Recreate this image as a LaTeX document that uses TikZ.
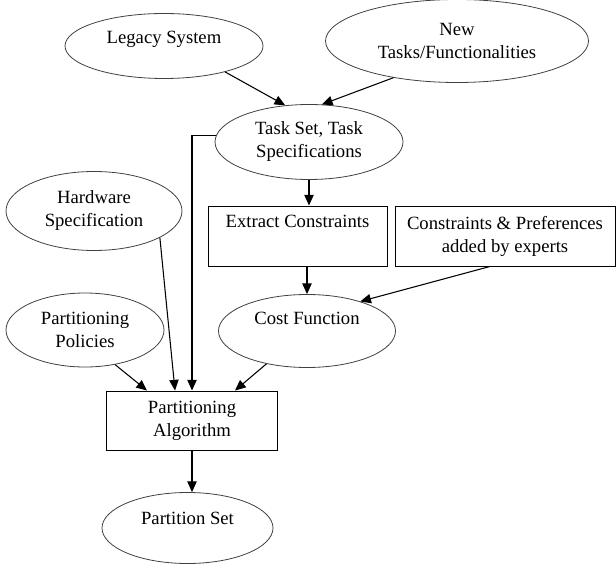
\documentclass[tikz,border=0pt]{standalone}
\usepackage{fontspec}
\setmainfont{Liberation Serif}
\usetikzlibrary{arrows.meta,shapes.geometric,calc}

\begin{document}
\begin{tikzpicture}[x=0.75pt, y=-0.75pt, >={Triangle[length=8pt,width=7pt]}, font=\fontsize{14}{17.25}\selectfont] %partitioning flow
	\tikzstyle{oval} = [ellipse, draw=black!75, line width=0.6pt, inner sep=0pt, align=center]
	\tikzstyle{box} = [rectangle, draw, line width=0.7pt, inner sep=0pt, align=center]
	\tikzstyle{link} = [->, line width=0.8pt]
	\useasboundingbox (0,0) rectangle (616,566);

	% inputs
	\node[oval, minimum width=148.5pt, minimum height=48.75pt, text depth=13.5pt] (ls) at (164,46) {Legacy System};
	\node[oval, minimum width=197.25pt, minimum height=62.25pt] (nt) at (457,41) {New\\Tasks/Functionalities};
	\node[oval, minimum width=141pt, minimum height=56.25pt] (ts) at (309,142) {Task Set, Task\\Specifications};
	\node[oval, minimum width=132pt, minimum height=59.25pt] (hw) at (94,211) {Hardware\\Specification};
	\node[oval, minimum width=118.5pt, minimum height=55.5pt] (pp) at (85,330) {Partitioning\\Policies};

	% constraints
	\node[box, minimum width=134.25pt, minimum height=45pt, text depth=22.5pt] (ec) at (297.5,236) {Extract Constraints};
	\node[box, minimum width=165pt, minimum height=45pt] (cp) at (505,236) {Constraints \& Preferences\\added by experts};
	\node[oval, minimum width=132.75pt, minimum height=54.75pt, text depth=19.5pt] (cf) at (307,331) {Cost Function};

	% algorithm and result
	\node[box, minimum width=128.25pt, minimum height=44.25pt] (pa) at (192,420.5) {Partitioning\\Algorithm};
	\node[oval, minimum width=128.25pt, minimum height=53.25pt, text depth=15pt] (ps) at (187.5,528) {Partition Set};

	\draw[link] (ls.-23) -- (ts.123);
	\draw[link] (nt.210) -- (ts.71);
	\draw[link] (ts) -- (ts |- ec.north);
	\draw[link] (ec.south -| cf) -- (cf);
	\draw[link] ($(cp.south)+(-15,0)$) -- (cf.29);
	\draw[link] (ts.176) -| (pa.north);
	\foreach \src/\dx in {hw.-22/-17, pp.-49/-45, cf.-141/43}
	{
		\draw[link] (\src) -- ($(pa.north)+(\dx,0)$);
	}
	\draw[link] (pa) -- (pa |- ps.north);
\end{tikzpicture}
\end{document}
